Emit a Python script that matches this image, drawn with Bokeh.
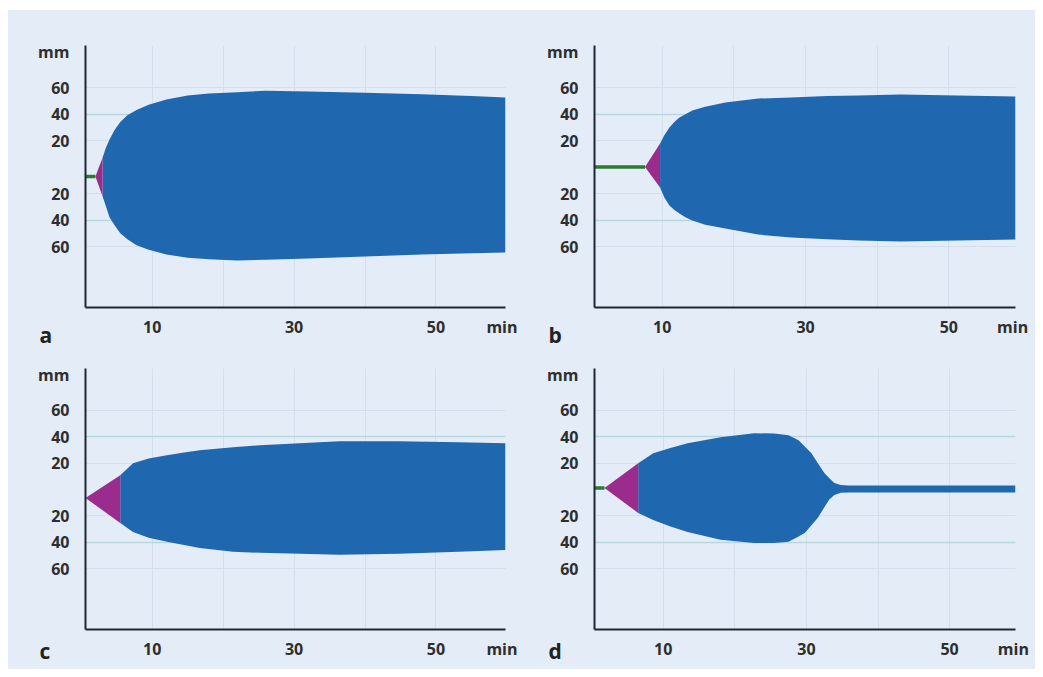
from bokeh.plotting import figure
from bokeh.layouts import gridplot, column, row
from bokeh.models import FixedTicker, Range1d, Grid, Title, Spacer
from bokeh.embed import file_html
from bokeh.resources import INLINE

# ---------------- data (minutes, mm) ----------------
# panel a
a_green_t = [0.6, 2.0]
a_green_y = [-7.2, -7.2]
a_purple_t = [2.0, 3.0]
a_purple_hi = [-7.2, 7.0]
a_purple_lo = [-7.2, -22.0]
a_t = [3.0, 3.5, 4.0, 4.7, 5.5, 6.5, 7.8, 9.5, 12, 15, 18, 22, 26, 32, 40, 48, 55, 59.8]
a_hi = [7, 15, 21, 28, 34, 39, 43, 47, 51, 54, 55.5, 56.5, 57.5, 57, 56, 55, 53.5, 52.5]
a_lo = [-22, -30, -38, -44, -50, -54.5, -59, -62.5, -66, -68.5, -69.5, -70.5, -70, -69, -67.5, -66, -65, -64.5]

# panel b
b_green_t = [0.55, 7.6]
b_green_y = [0.0, 0.0]
b_purple_t = [7.6, 9.7]
b_purple_hi = [0.0, 17.7]
b_purple_lo = [0.0, -15.5]
b_t = [9.7, 10.3, 11, 11.7, 12.4, 13.3, 14.2, 16, 18.8, 23.4, 28, 33, 37.4, 43.3, 51.2, 59.3]
b_hi = [17.7, 24, 29.8, 34, 37.4, 40, 42.6, 45.5, 48.7, 51.7, 52.5, 53.5, 54, 54.7, 54, 53.2]
b_lo = [-15.5, -23, -29, -32.5, -35, -38, -40.4, -43.5, -46.4, -51, -53.2, -54.5, -55.5, -56.2, -55.5, -54.7]

# panel c
c_green_t = []
c_green_y = []
c_purple_t = [0.6, 5.5]
c_purple_hi = [-6.4, 10.9]
c_purple_lo = [-6.4, -25.3]
c_t = [5.5, 7.3, 9.5, 12.1, 14.5, 16.7, 21.4, 25.2, 30.8, 36.4, 44.8, 53.2, 59.8]
c_hi = [10.9, 20, 23.5, 26, 28, 29.8, 32.1, 33.6, 35.1, 36.6, 36.6, 35.8, 35.1]
c_lo = [-25.3, -32.1, -36.5, -39.6, -42, -44.2, -47.2, -47.9, -48.7, -49.4, -48.7, -47.2, -45.7]

# panel d
d_green_t = [0.4, 1.8]
d_green_y = [1.1, 1.1]
d_purple_t = [1.8, 6.5]
d_purple_hi = [1.1, 20.0]
d_purple_lo = [1.1, -17.7]
d_t = [6.5, 8.6, 11, 13.4, 18, 22.7, 25.5, 27.5, 28.9, 29.8, 30.7, 31.6, 32.5, 33.2, 33.9, 34.8, 35.9, 40, 46.2, 53, 59.2]
d_hi = [20, 27.5, 31.5, 35.1, 39.6, 42.6, 42.5, 41.1, 37.4, 32.5, 27.5, 20, 12.5, 8.5, 4.9, 3.5, 3.0, 3.0, 3.0, 3.0, 3.0]
d_lo = [-17.7, -23, -28, -32.1, -38.1, -40.4, -40.5, -39.6, -35.5, -32.8, -27, -21.4, -13.4, -7.5, -4.2, -2.5, -2.2, -2.3, -2.3, -2.3, -2.3]

# ticks / labels
y_ticks = [-60, -40, -20, 20, 40, 60]
y_tick_labels = ["60", "40", "20", "20", "40", "60"]
y_unit = "mm"
x_ticks = [10, 30, 50]
x_unit = "min"
grid_x = [10, 20, 30, 40, 50]
grid_y_plain = [-60, -20, 20, 60]
grid_y_teal = [-40, 40]
letters = ["a", "b", "c", "d"]

# ---------------- style / layout ----------------
BG = "#e3ecf7"
BLUE = "#1f68af"
PURPLE = "#9b2b8d"
GREEN = "#2c7a2f"
AXIS = "#1d2834"
TEXT = "#2e2e2e"
FONT = "Open Sans"

Y_RANGE = (-106, 91.7)
MM_POS = 87

panels = [
    dict(letter=letters[0], xr=(0.6, 59.8), minpos=59.4, w=509, h=338, bl=75, br=12, bt=35, bb=41, ls=-40,
         gt=a_green_t, gy=a_green_y, pt=a_purple_t, phi=a_purple_hi, plo=a_purple_lo, t=a_t, hi=a_hi, lo=a_lo),
    dict(letter=letters[1], xr=(0.55, 59.3), minpos=58.9, w=518, h=338, bl=75, br=20, bt=35, bb=41, ls=-40,
         gt=b_green_t, gy=b_green_y, pt=b_purple_t, phi=b_purple_hi, plo=b_purple_lo, t=b_t, hi=b_hi, lo=b_lo),
    dict(letter=letters[2], xr=(0.6, 59.8), minpos=59.3, w=509, h=321, bl=77, br=10, bt=20, bb=40, ls=-52,
         gt=c_green_t, gy=c_green_y, pt=c_purple_t, phi=c_purple_hi, plo=c_purple_lo, t=c_t, hi=c_hi, lo=c_lo),
    dict(letter=letters[3], xr=(0.4, 59.2), minpos=58.9, w=518, h=321, bl=77, br=20, bt=20, bb=40, ls=-52,
         gt=d_green_t, gy=d_green_y, pt=d_purple_t, phi=d_purple_hi, plo=d_purple_lo, t=d_t, hi=d_hi, lo=d_lo),
]


def make_panel(cfg):
    p = figure(width=cfg["w"], height=cfg["h"],
               x_range=Range1d(*cfg["xr"]), y_range=Range1d(*Y_RANGE),
               min_border_left=cfg["bl"], min_border_right=cfg["br"],
               min_border_top=cfg["bt"], min_border_bottom=cfg["bb"],
               output_backend="svg", toolbar_location=None,
               background_fill_color=BG, border_fill_color=BG,
               outline_line_color=None)

    # grids
    p.xgrid.ticker = FixedTicker(ticks=grid_x)
    p.xgrid.grid_line_color = "#d4dfec"
    p.xgrid.grid_line_width = 1
    p.ygrid.ticker = FixedTicker(ticks=grid_y_plain)
    p.ygrid.grid_line_color = "#d4dfec"
    p.ygrid.grid_line_width = 1
    p.add_layout(Grid(dimension=1, ticker=FixedTicker(ticks=grid_y_teal),
                      grid_line_color="#b6d8dc", grid_line_width=1.5))

    # axes
    for ax in (p.xaxis[0], p.yaxis[0]):
        ax.axis_line_color = AXIS
        ax.axis_line_width = 2
        ax.major_tick_line_color = None
        ax.minor_tick_line_color = None
        ax.major_label_text_font = FONT
        ax.major_label_text_font_style = "bold"
        ax.major_label_text_font_size = "16px"
        ax.major_label_text_color = TEXT

    p.yaxis.ticker = FixedTicker(ticks=y_ticks + [MM_POS])
    ov = {v: s for v, s in zip(y_ticks, y_tick_labels)}
    ov[MM_POS] = y_unit
    p.yaxis.major_label_overrides = ov
    p.yaxis.major_label_standoff = 10

    p.xaxis.ticker = FixedTicker(ticks=x_ticks + [cfg["minpos"]])
    xov = {v: str(v) for v in x_ticks}
    xov[cfg["minpos"]] = x_unit
    p.xaxis.major_label_overrides = xov
    p.xaxis.major_label_standoff = 2

    # traces
    p.varea(x=cfg["t"], y1=cfg["lo"], y2=cfg["hi"], fill_color=BLUE)
    p.varea(x=cfg["pt"], y1=cfg["plo"], y2=cfg["phi"], fill_color=PURPLE)
    if cfg["gt"]:
        p.line(x=cfg["gt"], y=cfg["gy"], line_color=GREEN, line_width=3.5)

    # panel letter
    p.add_layout(Title(text=cfg["letter"], align="left", offset=-46, standoff=cfg["ls"],
                       vertical_align="top", text_font=FONT, text_font_style="bold",
                       text_font_size="21px", text_color="#222222"), "below")
    return p


figs = [make_panel(c) for c in panels]
grid = gridplot([[figs[0], figs[1]], [figs[2], figs[3]]], toolbar_location=None)
grid.styles = {"background-color": BG}
layout = column(Spacer(height=10), row(Spacer(width=8), grid))

open("out.html", "w").write(file_html(layout, INLINE))
